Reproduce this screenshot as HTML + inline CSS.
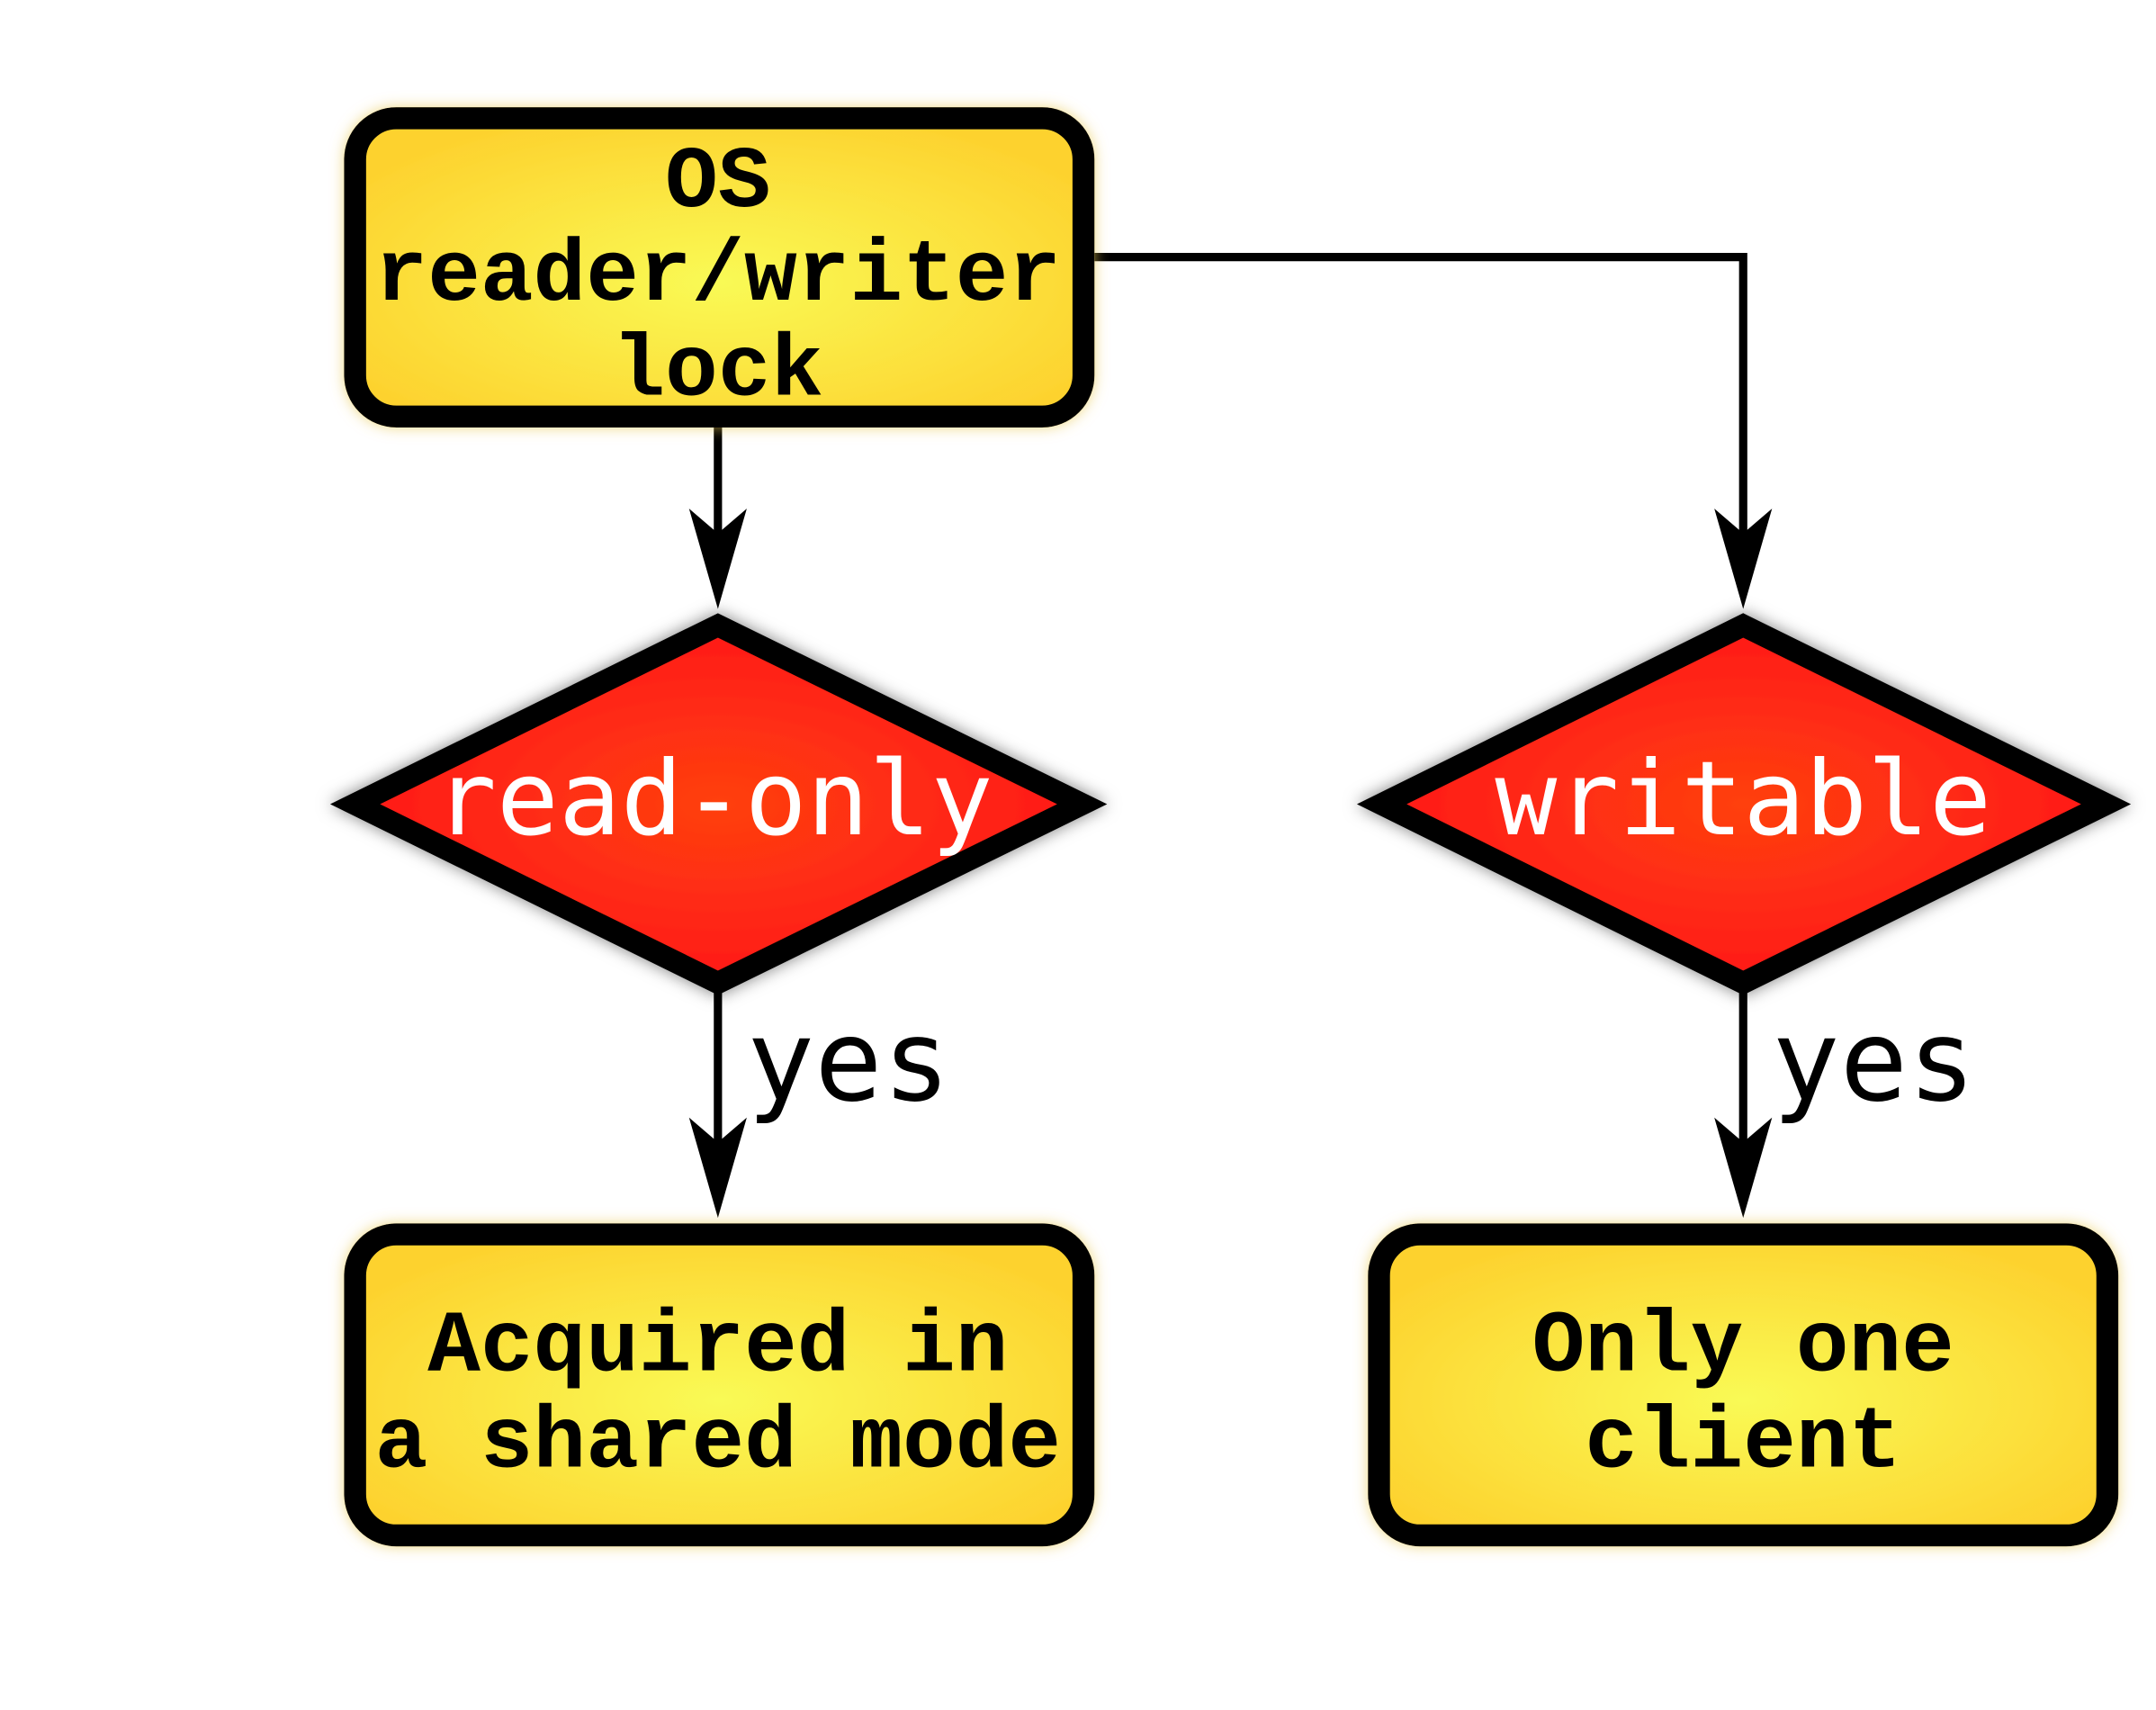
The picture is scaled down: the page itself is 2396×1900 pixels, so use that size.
<!DOCTYPE html>
<html><head><style>html,body{margin:0;padding:0;background:#fff}svg{display:block}</style></head>
<body>
<svg width="2396" height="1900" viewBox="0 0 1568 1244" xmlns="http://www.w3.org/2000/svg">
<defs>
<radialGradient id="y" cx="50%" cy="55%" r="60%"><stop offset="0" stop-color="#f9fa55"/><stop offset="1" stop-color="#fdd22e"/></radialGradient>
<radialGradient id="r" cx="50%" cy="50%" r="55%"><stop offset="0" stop-color="#ff4010"/><stop offset="1" stop-color="#ff1515"/></radialGradient>
<filter id="gy" x="-10%" y="-10%" width="120%" height="120%"><feDropShadow dx="0" dy="0" stdDeviation="5" flood-color="#e8c850" flood-opacity="0.7"/></filter>
<filter id="gk" x="-10%" y="-10%" width="120%" height="120%"><feDropShadow dx="0" dy="0" stdDeviation="6" flood-color="#000" flood-opacity="0.5"/></filter>
</defs>
<g fill="none" stroke="#000" stroke-width="6">
<line x1="522" y1="311" x2="522" y2="390"/>
<polyline points="796,187 1268,187 1268,390"/>
<line x1="522" y1="722" x2="522" y2="835"/>
<line x1="1268" y1="722" x2="1268" y2="835"/>
</g>
<g fill="#000">
<polygon points="522,443 501,370 522,388 543,370"/>
<polygon points="1268,443 1247,370 1268,388 1289,370"/>
<polygon points="522,886 501,813 522,831 543,813"/>
<polygon points="1268,886 1247,813 1268,831 1289,813"/>
</g>
<g stroke="#000" stroke-width="16" fill="url(#y)" filter="url(#gy)">
<rect x="258" y="86" width="530" height="217" rx="30"/>
<rect x="258" y="898" width="530" height="219" rx="30"/>
<rect x="1003" y="898" width="530" height="219" rx="30"/>
</g>
<g stroke="#000" stroke-width="16" fill="url(#r)" filter="url(#gk)">
<polygon points="522,455 787,585 522,715 258,585"/>
<polygon points="1268,455 1532,585 1268,715 1005,585"/>
</g>
<g font-family="Liberation Mono, monospace" font-weight="bold" font-size="64" text-anchor="middle" fill="#000">
<text x="522" y="150">OS</text>
<text x="522" y="218">reader/writer</text>
<text x="522" y="287">lock</text>
<text x="522" y="997">Acquired in</text>
<text x="522" y="1067">a shared mode</text>
<text x="1268" y="997">Only one</text>
<text x="1268" y="1067">client</text>
</g>
<g font-family="DejaVu Sans Mono, Liberation Mono, monospace" font-size="75" text-anchor="middle" fill="#fff">
<text x="519" y="607">read-only</text>
<text x="1268" y="607">writable</text>
</g>
<g font-family="DejaVu Sans Mono, Liberation Mono, monospace" font-size="82" fill="#000">
<text x="543" y="800">yes</text>
<text x="1289" y="800">yes</text>
</g>
</svg>
</body></html>
